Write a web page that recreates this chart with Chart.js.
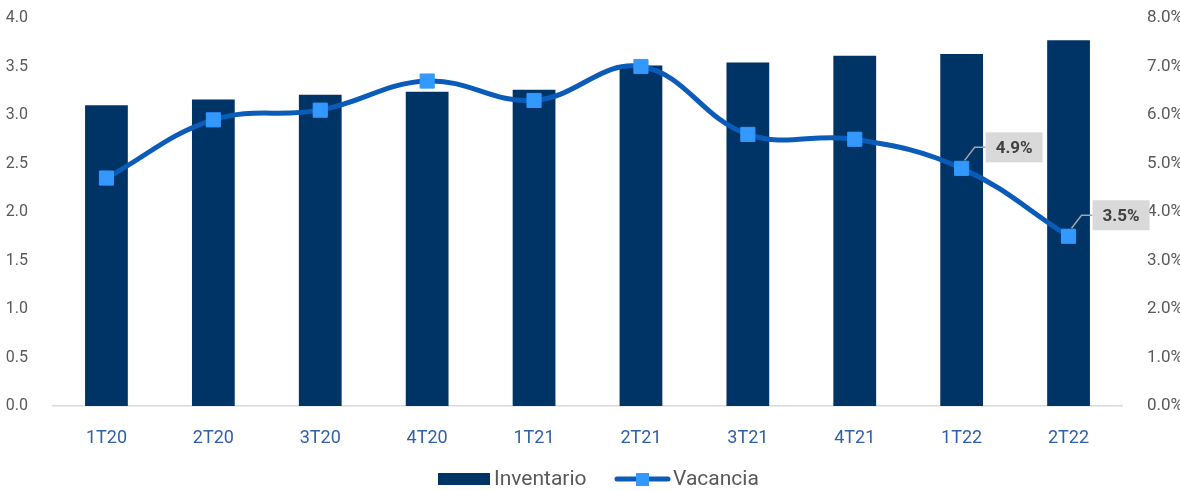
<!DOCTYPE html>
<html>
<head>
<meta charset="utf-8">
<script src="https://cdn.jsdelivr.net/npm/chart.js@4"></script>
<style>
  body { margin: 0; background: #fff; }
</style>
</head>
<body>
<canvas id="chart" width="1180" height="491"></canvas>
<script>
// Quarters, inventory (left axis) and vacancy rate in % (right axis)
const quarters = ['1T20', '2T20', '3T20', '4T20', '1T21', '2T21', '3T21', '4T21', '1T22', '2T22'];
const inventario = [3.10, 3.16, 3.21, 3.24, 3.26, 3.51, 3.54, 3.61, 3.63, 3.77];
const vacancia = [4.7, 5.9, 6.1, 6.7, 6.3, 7.0, 5.6, 5.5, 4.9, 3.5];
const leftTicks = [0, 0.5, 1, 1.5, 2, 2.5, 3, 3.5, 4];
const rightTicks = [0, 1, 2, 3, 4, 5, 6, 7, 8];
// Which vacancy points get a value callout
const labelled = [8, 9];

const NAVY = '#003366';
const LINE = '#0a5cb8';
const MARK = '#3399ff';
const GREY = '#595959';

// callouts: grey box with bold value, joined to the marker by a short elbow line
const calloutPlugin = {
  id: 'callouts',
  afterDatasetsDraw(chart) {
    const ctx = chart.ctx;
    const meta = chart.getDatasetMeta(0);
    ctx.save();
    ctx.font = 'bold 17px Roboto';
    labelled.forEach(i => {
      const p = meta.data[i];
      const text = vacancia[i].toFixed(1) + '%';
      const w = 57, h = 30;
      const bx = p.x + 24, by = p.y - 36;
      ctx.strokeStyle = '#a6a6a6';
      ctx.lineWidth = 1.5;
      ctx.beginPath();
      ctx.moveTo(p.x + 3, p.y - 8);
      ctx.lineTo(p.x + 13, p.y - 21);
      ctx.lineTo(bx, p.y - 21);
      ctx.stroke();
      ctx.fillStyle = '#d9d9d9';
      ctx.fillRect(bx, by, w, h);
      ctx.fillStyle = '#404040';
      ctx.textAlign = 'center';
      ctx.textBaseline = 'middle';
      ctx.fillText(text, bx + w / 2, by + h / 2 + 1);
    });
    ctx.restore();
  }
};

// bottom legend: bar swatch and line-with-marker swatch
const legendPlugin = {
  id: 'bottomLegend',
  afterDraw(chart) {
    const ctx = chart.ctx;
    const y = 479;
    ctx.save();
    ctx.font = '21px Roboto';
    ctx.textBaseline = 'middle';
    ctx.fillStyle = NAVY;
    ctx.fillRect(438, y - 6, 52, 12);
    ctx.fillStyle = GREY;
    ctx.fillText('Inventario', 494, y + 1);
    ctx.strokeStyle = LINE;
    ctx.lineWidth = 5;
    ctx.lineCap = 'round';
    ctx.beginPath();
    ctx.moveTo(617, y);
    ctx.lineTo(668, y);
    ctx.stroke();
    ctx.fillStyle = MARK;
    ctx.fillRect(636, y - 6, 13, 13);
    ctx.fillStyle = GREY;
    ctx.fillText('Vacancia', 673, y + 1);
    ctx.restore();
  }
};

// fixed axis box sizes so the plot area sits where the labels need it
const fixVertical = width => axis => {
  axis.width = width;
  axis.paddingTop = 0;
  axis.paddingBottom = 0;
};

new Chart(document.getElementById('chart'), {
  data: {
    labels: quarters,
    datasets: [
      {
        type: 'line',
        label: 'Vacancia',
        data: vacancia,
        yAxisID: 'y1',
        borderColor: LINE,
        borderWidth: 5,
        tension: 0.4,
        pointStyle: 'rect',
        pointRadius: 10,
        pointBorderWidth: 1,
        pointBackgroundColor: MARK,
        pointBorderColor: MARK,
        order: 0
      },
      {
        type: 'bar',
        label: 'Inventario',
        data: inventario,
        yAxisID: 'y',
        backgroundColor: NAVY,
        categoryPercentage: 1,
        barPercentage: 0.4,
        order: 1
      }
    ]
  },
  options: {
    responsive: false,
    animation: false,
    layout: { padding: { top: 18, left: 0, right: 0, bottom: 0 } },
    plugins: { legend: { display: false }, tooltip: { enabled: false } },
    scales: {
      x: {
        grid: { display: false },
        border: { color: '#d9d9d9', width: 1.5 },
        ticks: { color: '#2e5fa8', font: { family: 'Roboto', size: 18 }, padding: 14 },
        afterFit: axis => { axis.height = 85; }
      },
      y: {
        position: 'left',
        min: 0,
        max: 4,
        afterBuildTicks: axis => { axis.ticks = leftTicks.map(v => ({ value: v })); },
        afterFit: fixVertical(53),
        grid: { display: false },
        border: { display: false },
        ticks: { color: GREY, font: { family: 'Roboto', size: 16 }, padding: 17, callback: v => v.toFixed(1) }
      },
      y1: {
        position: 'right',
        min: 0,
        max: 8,
        afterBuildTicks: axis => { axis.ticks = rightTicks.map(v => ({ value: v })); },
        afterFit: fixVertical(58),
        grid: { display: false },
        border: { display: false },
        ticks: { color: GREY, font: { family: 'Roboto', size: 17 }, padding: 17, callback: v => v.toFixed(1) + '%' }
      }
    }
  },
  plugins: [calloutPlugin, legendPlugin]
});
</script>
</body>
</html>
